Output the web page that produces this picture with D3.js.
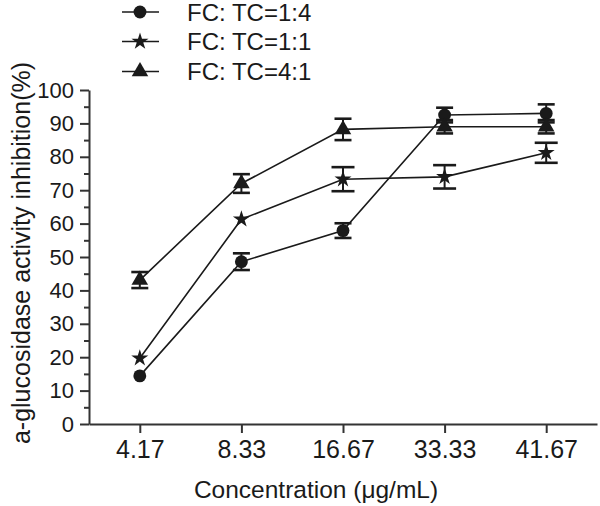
<!DOCTYPE html>
<html><head><meta charset="utf-8">
<script src="https://cdn.jsdelivr.net/npm/d3@7"></script>
<style>body{margin:0;background:#fff}svg{display:block}text{font-family:"Liberation Sans",Arial,sans-serif;fill:#1a1a1a}</style>
</head><body>
<svg id="c" width="600" height="506"></svg>
<script>
const categories = ["4.17","8.33","16.67","33.33","41.67"];
const seriesNames = ["FC: TC=1:4","FC: TC=1:1","FC: TC=4:1"];
const seriesA = [14.4, 48.6, 57.9, 92.5, 93.0];
const errA    = [0, 2.5, 2.2, 2.2, 2.7];
const seriesB = [19.7, 61.3, 73.3, 74.0, 81.2];
const errB    = [0, 0, 3.6, 3.5, 3.0];
const seriesC = [43.1, 72.0, 88.2, 89.0, 89.0];
const errC    = [2.4, 2.8, 3.2, 2.0, 2.0];
const yTicks = [0,10,20,30,40,50,60,70,80,90,100];
const yMinor = [5,15,25,35,45,55,65,75,85,95];

const svg = d3.select("#c");
const x = d3.scalePoint().domain(categories).range([89, 597]).padding(0.5);
const y = d3.scaleLinear().domain([0,100]).range([424, 90]);
const ink = "#1a1a1a";

// y axis
const gy = svg.append("g").attr("transform","translate(89,0)")
  .call(d3.axisLeft(y).tickValues(yTicks).tickSize(9).tickSizeOuter(0).tickPadding(6).tickFormat(d3.format("d")));
gy.selectAll("text").style("font-size","22px");
svg.append("g").attr("transform","translate(89,0)")
  .call(d3.axisLeft(y).tickValues(yMinor).tickSize(5).tickSizeOuter(0).tickFormat(""))
  .select(".domain").remove();
// x axis
const gx = svg.append("g").attr("transform","translate(0,424)")
  .call(d3.axisBottom(x).tickSize(9).tickSizeOuter(0).tickPadding(7));
gx.selectAll("text").style("font-size","25px");
svg.selectAll(".domain, .tick line").attr("stroke","#333").attr("stroke-width",2);
svg.selectAll(".tick text").attr("fill",ink);

// titles
svg.append("text").attr("x",316).attr("y",498).attr("text-anchor","middle")
  .style("font-size","24.5px").text("Concentration (μg/mL)");
svg.append("text").attr("transform","translate(30,253) rotate(-90)").attr("text-anchor","middle")
  .style("font-size","25px").text("a-glucosidase activity inhibition(%)");

const series = [
  {name: seriesNames[0], vals: seriesA, err: errA, sym: d3.symbolCircle, size: 130, cap: 8.5},
  {name: seriesNames[1], vals: seriesB, err: errB, sym: d3.symbolStar, size: 90, cap: 11.5},
  {name: seriesNames[2], vals: seriesC, err: errC, sym: d3.symbolTriangle, size: 118, cap: 8.5}
];

const line = d3.line().x((d,i)=>x(categories[i])).y(d=>y(d));
series.forEach(s => {
  svg.append("path").attr("d", line(s.vals)).attr("fill","none").attr("stroke",ink).attr("stroke-width",1.6);
  const g = svg.append("g");
  s.vals.forEach((v,i) => {
    const cx = x(categories[i]);
    const e = s.err[i];
    if (e > 0) {
      g.append("line").attr("x1",cx).attr("x2",cx).attr("y1",y(v-e)).attr("y2",y(v+e)).attr("stroke",ink).attr("stroke-width",2);
      [v-e, v+e].forEach(t => g.append("line").attr("x1",cx-s.cap).attr("x2",cx+s.cap).attr("y1",y(t)).attr("y2",y(t)).attr("stroke",ink).attr("stroke-width",2.6));
    }
    g.append("path").attr("d", d3.symbol(s.sym, s.size)()).attr("transform",`translate(${cx},${y(v)})`).attr("fill",ink);
  });
});

// legend
const legY = [12, 41.5, 71.5];
series.forEach((s,i) => {
  const g = svg.append("g").attr("transform",`translate(0,${legY[i]})`);
  g.append("line").attr("x1",122).attr("x2",159).attr("y1",0).attr("y2",0).attr("stroke",ink).attr("stroke-width",1.6);
  g.append("path").attr("d", d3.symbol(s.sym, s.size)()).attr("transform","translate(140,0)").attr("fill",ink);
  g.append("text").attr("x",187).attr("y",8.5).style("font-size","24px").text(s.name);
});
</script>
</body></html>
